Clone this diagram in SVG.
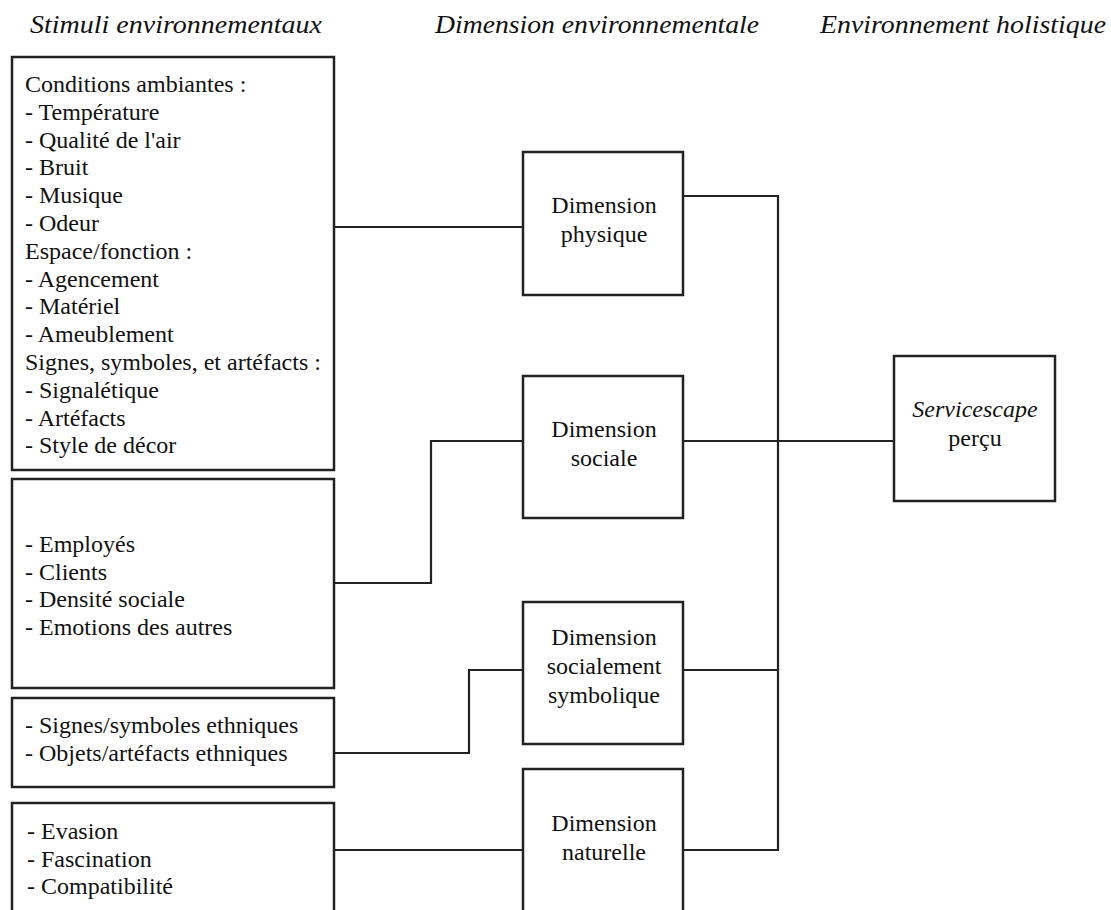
<svg xmlns="http://www.w3.org/2000/svg" width="1111" height="910" viewBox="0 0 1111 910">
<style>
.box{fill:#fff;stroke:#222;stroke-width:2.5}
.conn{fill:none;stroke:#222;stroke-width:2.2}
.t{font-family:'Liberation Serif',Tinos,'Times New Roman',Times,'Noto Serif','Nimbus Roman','Nimbus Roman No9 L',FreeSerif,'DejaVu Serif',Georgia,serif;font-size:24px;fill:#111}
.c{text-anchor:middle}
.h{font-family:'Liberation Serif',Tinos,'Times New Roman',Times,'Noto Serif','Nimbus Roman','Nimbus Roman No9 L',FreeSerif,'DejaVu Serif',Georgia,serif;font-size:25px;font-style:italic;fill:#111}
.i{font-style:italic}
</style>
<rect width="1111" height="910" fill="#fff"/>
<g id="titles">
<text class="h" x="30" y="33" textLength="292" lengthAdjust="spacingAndGlyphs">Stimuli environnementaux</text>
<text class="h" x="435" y="33" textLength="324" lengthAdjust="spacingAndGlyphs">Dimension environnementale</text>
<text class="h" x="820" y="33" textLength="286" lengthAdjust="spacingAndGlyphs">Environnement holistique</text>
</g>
<g id="connectors">
<path class="conn" d="M334 227 H523"/>
<path class="conn" d="M334 583 H431 V441 H523"/>
<path class="conn" d="M334 753 H469 V670 H523"/>
<path class="conn" d="M334 850 H523"/>
<path class="conn" d="M683 196 H778 V850 H683"/>
<path class="conn" d="M683 670 H778"/>
<path class="conn" d="M683 441 H894"/>
</g>
<g id="stimuli-physiques">
<rect class="box" x="12" y="57" width="322" height="413"/>
<text class="t">
<tspan x="25" y="92">Conditions ambiantes :</tspan>
<tspan x="25" y="119.8">- Température</tspan>
<tspan x="25" y="147.6">- Qualité de l'air</tspan>
<tspan x="25" y="175.4">- Bruit</tspan>
<tspan x="25" y="203.2">- Musique</tspan>
<tspan x="25" y="231">- Odeur</tspan>
<tspan x="25" y="258.8">Espace/fonction :</tspan>
<tspan x="25" y="286.6">- Agencement</tspan>
<tspan x="25" y="314.4">- Matériel</tspan>
<tspan x="25" y="342.2">- Ameublement</tspan>
<tspan x="25" y="370">Signes, symboles, et artéfacts :</tspan>
<tspan x="25" y="397.8">- Signalétique</tspan>
<tspan x="25" y="425.6">- Artéfacts</tspan>
<tspan x="25" y="453.4">- Style de décor</tspan>
</text>
</g>
<g id="stimuli-sociaux">
<rect class="box" x="12" y="479" width="322" height="209"/>
<text class="t">
<tspan x="25" y="552">- Employés</tspan>
<tspan x="25" y="579.7">- Clients</tspan>
<tspan x="25" y="607.4">- Densité sociale</tspan>
<tspan x="25" y="635.1">- Emotions des autres</tspan>
</text>
</g>
<g id="stimuli-symboliques">
<rect class="box" x="12" y="698" width="322" height="89"/>
<text class="t">
<tspan x="25" y="733">- Signes/symboles ethniques</tspan>
<tspan x="25" y="760.7">- Objets/artéfacts ethniques</tspan>
</text>
</g>
<g id="stimuli-naturels">
<rect class="box" x="12" y="803" width="322" height="130"/>
<text class="t">
<tspan x="27" y="839">- Evasion</tspan>
<tspan x="27" y="866.7">- Fascination</tspan>
<tspan x="27" y="894.4">- Compatibilité</tspan>
</text>
</g>
<g id="dimension-physique">
<rect class="box" x="523" y="152" width="160" height="143"/>
<text class="t c"><tspan x="604" y="213">Dimension</tspan><tspan x="604" y="242">physique</tspan></text>
</g>
<g id="dimension-sociale">
<rect class="box" x="523" y="376" width="160" height="142"/>
<text class="t c"><tspan x="604" y="437">Dimension</tspan><tspan x="604" y="466">sociale</tspan></text>
</g>
<g id="dimension-symbolique">
<rect class="box" x="523" y="602" width="160" height="142"/>
<text class="t c"><tspan x="604" y="645">Dimension</tspan><tspan x="604" y="674">socialement</tspan><tspan x="604" y="703">symbolique</tspan></text>
</g>
<g id="dimension-naturelle">
<rect class="box" x="523" y="769" width="160" height="160"/>
<text class="t c"><tspan x="604" y="831">Dimension</tspan><tspan x="604" y="860">naturelle</tspan></text>
</g>
<g id="servicescape">
<rect class="box" x="894" y="356" width="161" height="145"/>
<text class="t c"><tspan class="i" x="975" y="417">Servicescape</tspan><tspan x="975" y="446">perçu</tspan></text>
</g>
</svg>
